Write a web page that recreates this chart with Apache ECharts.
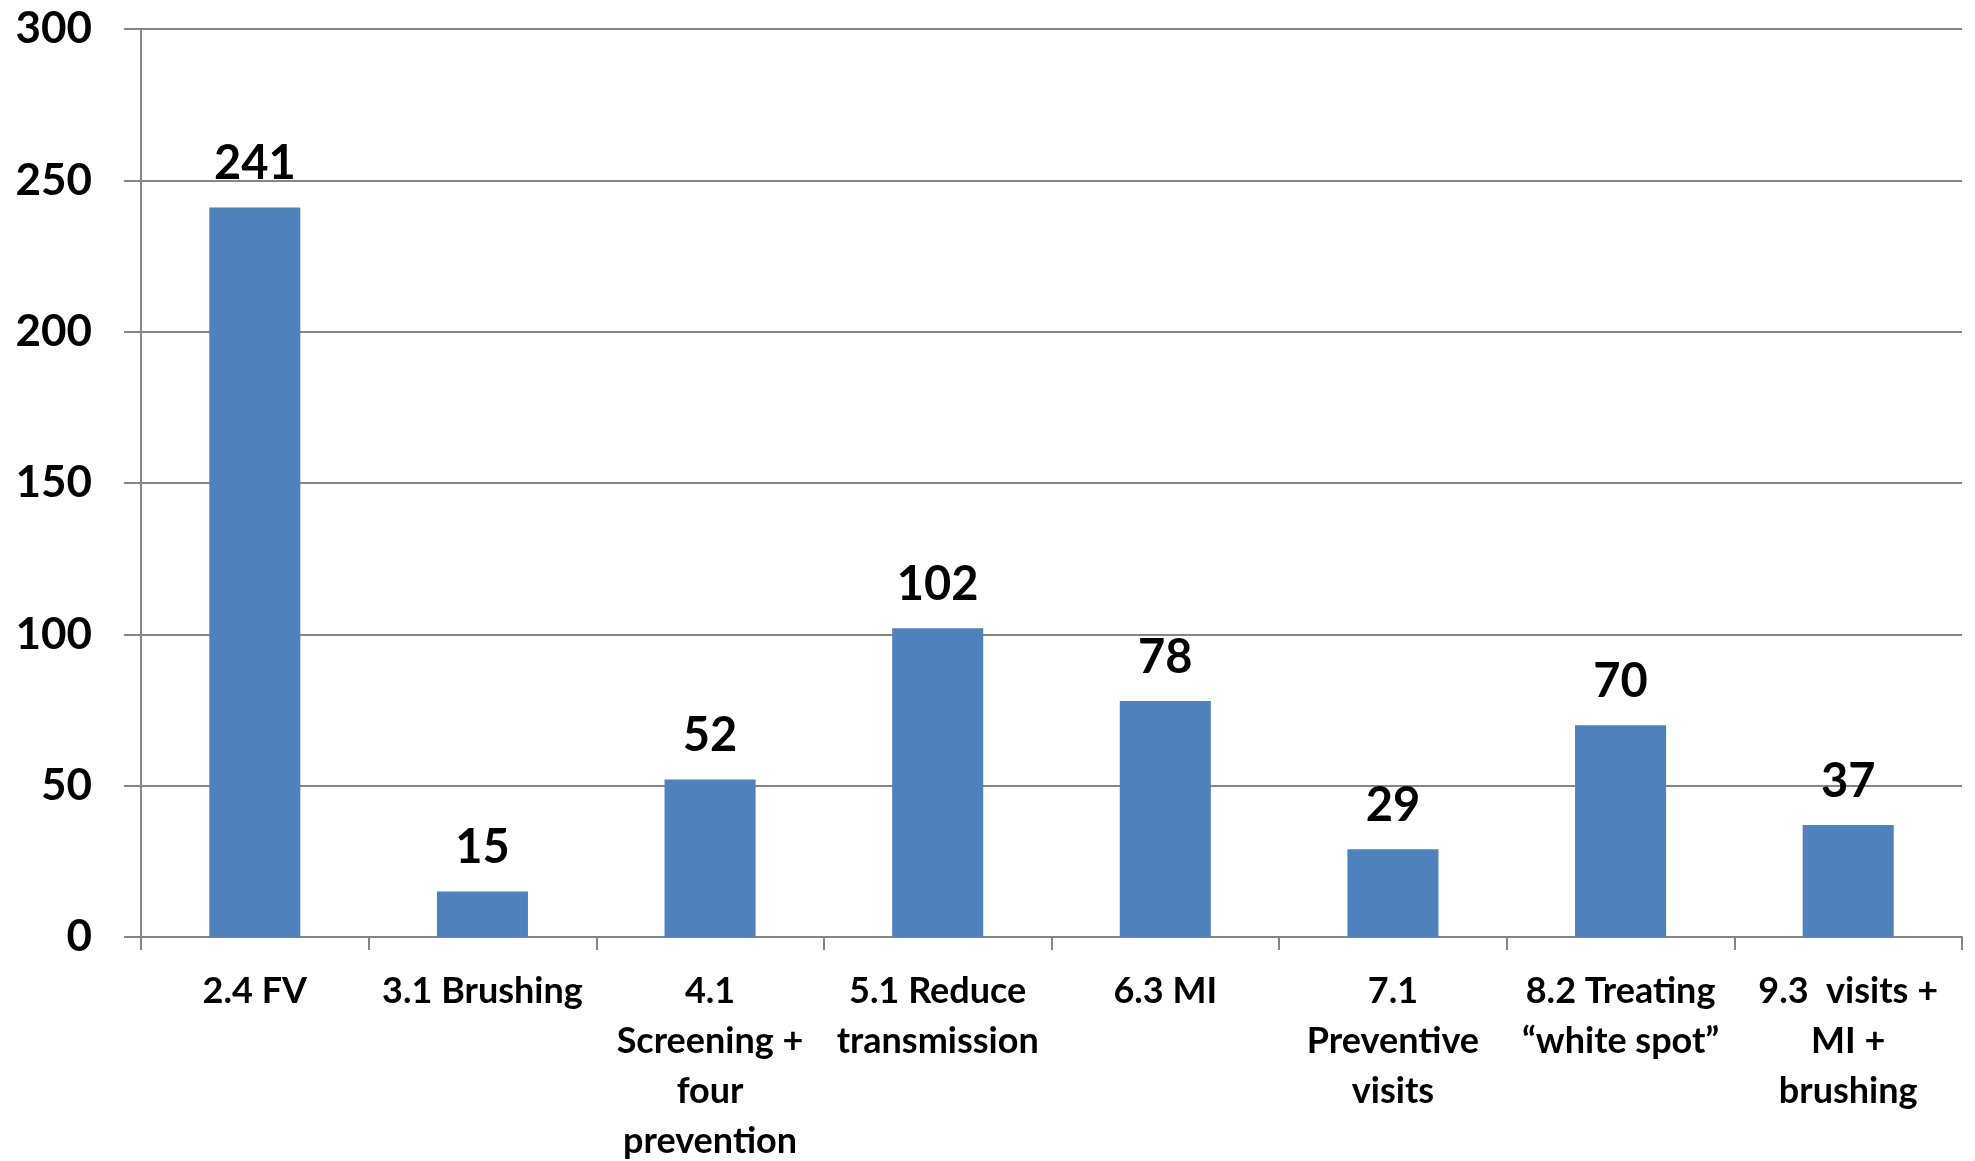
<!DOCTYPE html>
<html>
<head>
<meta charset="utf-8">
<script src="https://cdn.jsdelivr.net/npm/echarts@6/dist/echarts.min.js"></script>
<style>
  html, body { margin: 0; padding: 0; background: #fff; }
  #chart { width: 1975px; height: 1161px; }
</style>
</head>
<body>
<div id="chart"></div>
<script>
// Intervention categories (line breaks as shown under the axis)
const categories = [
  '2.4 FV',
  '3.1 Brushing',
  '4.1\nScreening +\nfour\nprevention',
  '5.1 Reduce\ntransmission',
  '6.3 MI',
  '7.1\nPreventive\nvisits',
  '8.2 Treating\n\u201cwhite spot\u201d',
  '9.3  visits +\nMI +\nbrushing'
];
// Count per intervention
const counts = [241, 15, 52, 102, 78, 29, 70, 37];
// Value-axis settings
const yMin = 0, yMax = 300, yStep = 50;

const FONT = 'Lato, "Open Sans", sans-serif';
const GRAY = '#868686';

const chart = echarts.init(document.getElementById('chart'), null, { renderer: 'canvas' });
chart.setOption({
  animation: false,
  backgroundColor: '#ffffff',
  grid: {
    left: 141, right: 13, top: 29, bottom: 224,
    containLabel: false,
    outerBoundsMode: 'none'
  },
  xAxis: {
    type: 'category',
    data: categories,
    axisLine: { show: true, lineStyle: { color: GRAY, width: 2 } },
    axisTick: { show: true, length: 13, lineStyle: { color: GRAY, width: 2 } },
    axisLabel: {
      interval: 0,
      margin: 29,
      color: '#000',
      fontFamily: FONT,
      fontWeight: 'bold',
      fontSize: 36,
      lineHeight: 50,
      align: 'center'
    }
  },
  yAxis: {
    type: 'value',
    min: yMin,
    max: yMax,
    interval: yStep,
    axisLine: { show: true, lineStyle: { color: GRAY, width: 2 } },
    axisTick: { show: true, length: 17, lineStyle: { color: GRAY, width: 2 } },
    splitLine: { show: true, lineStyle: { color: GRAY, width: 2 } },
    axisLabel: {
      margin: 49,
      color: '#000',
      fontFamily: FONT,
      fontWeight: 'bold',
      fontSize: 44
    }
  },
  series: [{
    type: 'bar',
    data: counts,
    barWidth: '40%',
    itemStyle: { color: '#4F81BD' },
    label: {
      show: true,
      position: 'top',
      distance: 20,
      color: '#000',
      fontFamily: FONT,
      fontWeight: 'bold',
      fontSize: 47
    }
  }]
});
</script>
</body>
</html>
